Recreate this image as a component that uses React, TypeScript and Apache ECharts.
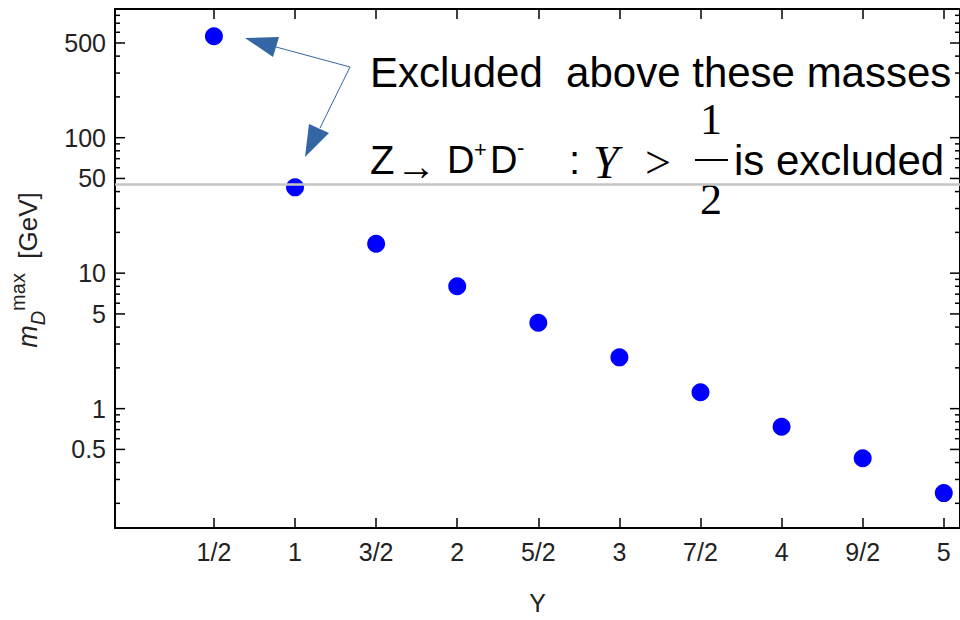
import React, { useEffect, useRef } from "react";
import * as echarts from "echarts";

// ---- data ----
const yCharge: number[] = [0.5, 1, 1.5, 2, 2.5, 3, 3.5, 4, 4.5, 5];
const mdMax: number[] = [560, 43, 16.5, 8.0, 4.3, 2.39, 1.32, 0.735, 0.43, 0.238];
const zHalfMass = 45.6;

const xTickValues: number[] = [0.5, 1, 1.5, 2, 2.5, 3, 3.5, 4, 4.5, 5];
const xTickLabels: string[] = ["1/2", "1", "3/2", "2", "5/2", "3", "7/2", "4", "9/2", "5"];

const yMajorValues: number[] = [0.5, 1, 5, 10, 50, 100, 500];
const yMajorLabels: string[] = ["0.5", "1", "5", "10", "50", "100", "500"];
const yMinorValues: number[] = [
  0.2, 0.3, 0.4, 0.6, 0.7, 0.8, 0.9, 2, 3, 4, 6, 7, 8, 9,
  20, 30, 40, 60, 70, 80, 90, 200, 300, 400, 600, 700, 800,
];

const X_MIN = -0.11;
const X_MAX = 5.1;
const Y_MIN = 0.1315;
const Y_MAX = 891;

const SANS = '"Liberation Sans", Arial, Helvetica, sans-serif';
const SERIF = '"Liberation Serif", "Times New Roman", serif';
const LABEL_FS = 25;
const LABEL_COLOR = "#222";

export default function App() {
  const ref = useRef<HTMLDivElement>(null);

  useEffect(() => {
    if (!ref.current) return;
    const chart = echarts.init(ref.current, null, { renderer: "svg" });

    const yTickData = [
      ...yMajorValues.map((v, i) => ({ value: [X_MIN, v, 1], label: yMajorLabels[i] })),
      ...yMinorValues.map((v) => ({ value: [X_MIN, v, 0], label: "" })),
    ];

    const annFill = "#000";
    const arrowColor = "#3465a4";

    const option: any = {
      animation: false,
      backgroundColor: "#fff",
      grid: { left: 115, right: -1, top: 9, bottom: 88, containLabel: false },
      xAxis: [
        {
          type: "value",
          min: X_MIN,
          max: X_MAX,
          position: "bottom",
          name: "Y",
          nameLocation: "middle",
          nameGap: 62,
          nameTextStyle: { fontFamily: SANS, fontSize: 25, color: LABEL_COLOR },
          axisLine: { show: true, onZero: false, lineStyle: { color: "#000", width: 2 } },
          axisTick: { show: true, inside: true, length: 10, customValues: xTickValues, lineStyle: { color: "#000", width: 1.5 } },
          axisLabel: {
            show: true,
            customValues: xTickValues,
            margin: 11,
            fontFamily: SANS,
            fontSize: LABEL_FS,
            color: LABEL_COLOR,
            formatter: (v: number) => {
              const i = xTickValues.findIndex((t) => Math.abs(t - v) < 1e-6);
              return i >= 0 ? xTickLabels[i] : "";
            },
          },
          splitLine: { show: false },
        },
        {
          type: "value",
          min: X_MIN,
          max: X_MAX,
          position: "top",
          axisLine: { show: true, onZero: false, lineStyle: { color: "#000", width: 2 } },
          axisTick: { show: true, inside: true, length: 10, customValues: xTickValues, lineStyle: { color: "#000", width: 1.5 } },
          axisLabel: { show: false },
          splitLine: { show: false },
        },
      ],
      yAxis: [
        {
          type: "log",
          min: Y_MIN,
          max: Y_MAX,
          position: "left",
          axisLine: { show: true, onZero: false, lineStyle: { color: "#000", width: 2 } },
          axisTick: { show: false },
          axisLabel: { show: false },
          splitLine: { show: false },
          minorTick: { show: false },
        },
        {
          type: "log",
          min: Y_MIN,
          max: Y_MAX,
          position: "right",
          axisLine: { show: true, onZero: false, lineStyle: { color: "#000", width: 2 } },
          axisTick: { show: false },
          axisLabel: { show: false },
          splitLine: { show: false },
        },
      ],
      series: [
        {
          type: "custom",
          name: "yticks",
          xAxisIndex: 0,
          yAxisIndex: 0,
          clip: false,
          silent: true,
          data: yTickData,
          renderItem: (params: any, api: any) => {
            const v = api.value(1);
            const major = api.value(2) === 1;
            const pt = api.coord([X_MIN, v]);
            const cs = params.coordSys;
            const y = pt[1];
            const left = cs.x;
            const right = cs.x + cs.width;
            const len = major ? 10 : 5;
            const children: any[] = [
              { type: "line", shape: { x1: left, y1: y, x2: left + len, y2: y }, style: { stroke: "#000", lineWidth: 1.5 } },
              { type: "line", shape: { x1: right, y1: y, x2: right - len, y2: y }, style: { stroke: "#000", lineWidth: 1.5 } },
            ];
            if (major) {
              const item = yTickData[params.dataIndex];
              children.push({
                type: "text",
                x: left - 9,
                y: y,
                style: {
                  text: item.label,
                  align: "right",
                  verticalAlign: "middle",
                  fontFamily: SANS,
                  fontSize: LABEL_FS,
                  fill: LABEL_COLOR,
                },
              });
            }
            return { type: "group", children };
          },
        },
        {
          type: "scatter",
          name: "mDmax",
          xAxisIndex: 0,
          yAxisIndex: 0,
          symbol: "circle",
          symbolSize: 18,
          itemStyle: { color: "#0000ff", opacity: 1 },
          data: yCharge.map((x, i) => [x, mdMax[i]]),
          markLine: {
            silent: true,
            symbol: ["none", "none"],
            label: { show: false },
            lineStyle: { color: "#c4c4c4", width: 2.5, type: "solid", opacity: 1 },
            data: [{ yAxis: zHalfMass }],
          },
          z: 3,
        },
      ],
      graphic: [
        {
          type: "text",
          x: 28,
          y: 270,
          rotation: Math.PI / 2,
          style: {
            text: "{m|m}{d|D}{s|max}{g|  [GeV]}",
            align: "center",
            verticalAlign: "middle",
            fill: LABEL_COLOR,
            rich: {
              m: { fontFamily: SANS, fontStyle: "italic", fontSize: 27, lineHeight: 40, fill: LABEL_COLOR, verticalAlign: "middle" },
              d: { fontFamily: SANS, fontStyle: "italic", fontSize: 20, lineHeight: 40, fill: LABEL_COLOR, verticalAlign: "bottom" },
              s: { fontFamily: SANS, fontSize: 20, lineHeight: 40, fill: LABEL_COLOR, verticalAlign: "top" },
              g: { fontFamily: SANS, fontSize: 26, lineHeight: 40, fill: LABEL_COLOR, verticalAlign: "middle" },
            },
          },
        },
        // annotation line 1
        {
          type: "text",
          x: 370,
          y: 72,
          style: { text: "Excluded  above these masses", fontFamily: SANS, fontSize: 42, fill: annFill, verticalAlign: "middle", align: "left" },
        },
        // annotation line 2
        { type: "text", x: 370, y: 160, style: { text: "Z", fontFamily: SANS, fontSize: 40, fill: annFill, verticalAlign: "middle" } },
        { type: "text", x: 396, y: 166, style: { text: "→", fontFamily: SANS, fontSize: 40, fill: annFill, verticalAlign: "middle" } },
        { type: "text", x: 447, y: 160, style: { text: "D", fontFamily: SANS, fontSize: 38, fill: annFill, verticalAlign: "middle" } },
        { type: "text", x: 474, y: 149, style: { text: "+", fontFamily: SANS, fontSize: 22, fill: annFill, verticalAlign: "middle" } },
        { type: "text", x: 490, y: 160, style: { text: "D", fontFamily: SANS, fontSize: 38, fill: annFill, verticalAlign: "middle" } },
        { type: "text", x: 517, y: 147, style: { text: "-", fontFamily: SANS, fontSize: 22, fill: annFill, verticalAlign: "middle" } },
        { type: "text", x: 569, y: 160, style: { text: ":", fontFamily: SANS, fontSize: 40, fill: annFill, verticalAlign: "middle" } },
        { type: "text", x: 593, y: 162, style: { text: "Y", fontFamily: SERIF, fontStyle: "italic", fontSize: 46, fill: annFill, verticalAlign: "middle" } },
        { type: "text", x: 645, y: 162, style: { text: ">", fontFamily: SERIF, fontSize: 46, fill: annFill, verticalAlign: "middle" } },
        { type: "text", x: 711, y: 119, style: { text: "1", fontFamily: SERIF, fontSize: 44, fill: annFill, verticalAlign: "middle", align: "center" } },
        { type: "line", shape: { x1: 695, y1: 160, x2: 728, y2: 160 }, style: { stroke: annFill, lineWidth: 2 } },
        { type: "text", x: 711, y: 199, style: { text: "2", fontFamily: SERIF, fontSize: 44, fill: annFill, verticalAlign: "middle", align: "center" } },
        { type: "text", x: 734, y: 160, style: { text: "is excluded", fontFamily: SANS, fontSize: 42, fill: annFill, verticalAlign: "middle" } },
        // arrows
        {
          type: "polyline",
          shape: { points: [[276, 47], [350, 67], [320, 128]] },
          style: { stroke: arrowColor, lineWidth: 1, fill: "none" },
        },
        { type: "polygon", shape: { points: [[245, 38], [279, 37], [273, 57]] }, style: { fill: arrowColor } },
        { type: "polygon", shape: { points: [[305, 157], [309, 124], [329, 133]] }, style: { fill: arrowColor } },
      ],
    };

    chart.setOption(option);
    return () => chart.dispose();
  }, []);

  return (
    <div
      ref={ref}
      style={{ position: "fixed", left: 0, top: 0, width: 960, height: 620, background: "#fff" }}
    />
  );
}
